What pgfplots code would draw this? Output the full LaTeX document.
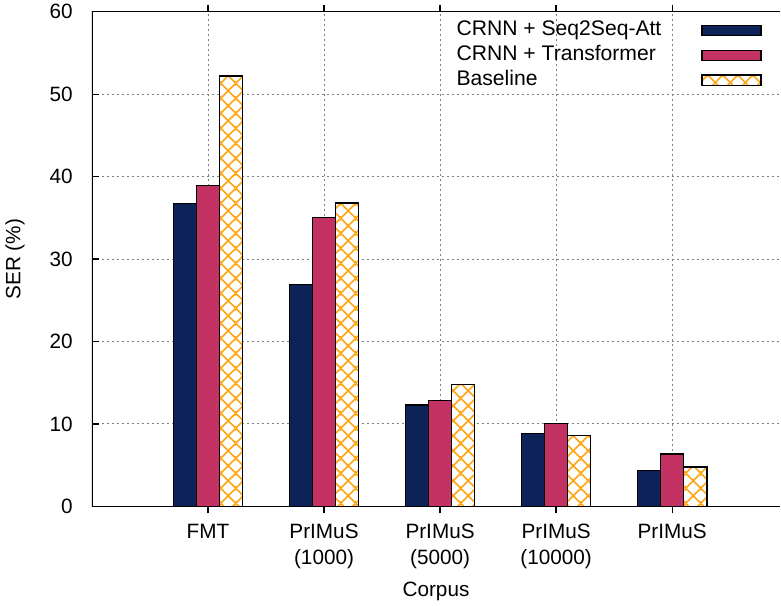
\documentclass[border=0pt]{standalone}
\usepackage{fontspec}
\setmainfont{Liberation Sans}
\usepackage{pgfplots}
\pgfplotsset{compat=1.18}
\usetikzlibrary{patterns}
\definecolor{navy}{RGB}{14,34,90}
\definecolor{crimson}{RGB}{196,50,100}
\definecolor{hatch}{RGB}{255,165,20}
\pgfdeclarepatterninherentlycolored{bigcross}{\pgfqpoint{0pt}{0pt}}{\pgfqpoint{7.4pt}{7.4pt}}{\pgfqpoint{7.4pt}{7.4pt}}{%
  \pgfsetcolor{hatch}%
  \pgfsetlinewidth{0.8pt}%
  \pgfpathmoveto{\pgfqpoint{-0.4pt}{-0.4pt}}\pgfpathlineto{\pgfqpoint{7.8pt}{7.8pt}}%
  \pgfpathmoveto{\pgfqpoint{-0.4pt}{7.8pt}}\pgfpathlineto{\pgfqpoint{7.8pt}{-0.4pt}}%
  \pgfusepath{stroke}}
\begin{document}
\begin{tikzpicture}
\useasboundingbox (-46bp,-49.65bp) rectangle (344.5bp,253.2bp);
\begin{axis}[
  at={(0,0)}, anchor=south west,
  scale only axis, width=344bp, height=247.35bp,
  xmin=-1, xmax=4.93, ymin=0, ymax=60,
  ybar=0pt, bar width=0.2,
  xtick={0,1,2,3,4},
  xticklabels={FMT,{PrIMuS\\(1000)},{PrIMuS\\(5000)},{PrIMuS\\(10000)},PrIMuS},
  ytick={0,10,20,30,40,50,60},
  xtick pos=both, ytick pos=left,
  major tick length=3.5bp,
  tick style={black, line width=0.6bp},
  axis line style={draw=none},
  grid=major,
  major grid style={gray, dash pattern=on 1bp off 1.5bp, line width=0.5bp},
  font=\fontsize{10.4}{13}\selectfont,
  /pgf/number format/assume math mode=true,
  xticklabel style={align=center, anchor=north, yshift=-1.8bp, font=\fontsize{10.4}{13}\selectfont},
  yticklabel style={xshift=-6.2bp, font=\fontsize{10.4}{13}\selectfont},
  xlabel={Corpus},
  xlabel style={at={(axis description cs:0.5,0)}, anchor=base, yshift=-45bp},
  ylabel={SER (\%)},
  ylabel style={at={(axis description cs:-0.1119,0.5)}, anchor=center},
  legend image code/.code={\draw[#1, draw=black, line width=0.6bp] (0bp,-2.65bp) rectangle (29.5bp,2.65bp);},
  legend style={draw=none, fill=none, at={(axis description cs:1,1)}, anchor=north east,
    xshift=-9bp, yshift=-4.2bp, inner sep=0pt, legend plot pos=right,
    column sep=20bp, row sep=2.45bp,
    nodes={inner sep=0pt, text height=7.5bp, text depth=2.5bp},
    font=\fontsize{10.6}{13}\selectfont},
  legend cell align=left,
]
\addplot[fill=navy, draw=black, line width=0.6bp, bar shift=-0.2] coordinates {(0,36.7) (1,26.9) (2,12.3) (3,8.85) (4,4.33)};
\addlegendentry{CRNN + Seq2Seq-Att}
\addplot[fill=crimson, draw=black, line width=0.6bp, bar shift=0] coordinates {(0,38.9) (1,35.0) (2,12.8) (3,10.1) (4,6.35)};
\addlegendentry{CRNN + Transformer}
\addplot[fill=white, draw=none, bar shift=0.2, forget plot] coordinates {(0,52.2) (1,36.8) (2,14.8) (3,8.57) (4,4.77)};
\addplot[pattern=bigcross, draw=black, line width=0.6bp, bar shift=0.2] coordinates {(0,52.2) (1,36.8) (2,14.8) (3,8.57) (4,4.77)};
\addlegendentry{Baseline}
\addplot[fill=none, draw=black, line width=0.6bp, bar shift=0.2, forget plot] coordinates {(0,52.2) (1,36.8) (2,14.8) (3,8.57) (4,4.77)};
\draw[black, line width=0.65bp] (rel axis cs:1,1) -- (rel axis cs:0,1) -- (rel axis cs:0,0) -- (rel axis cs:1,0);
\end{axis}
\end{tikzpicture}
\end{document}
